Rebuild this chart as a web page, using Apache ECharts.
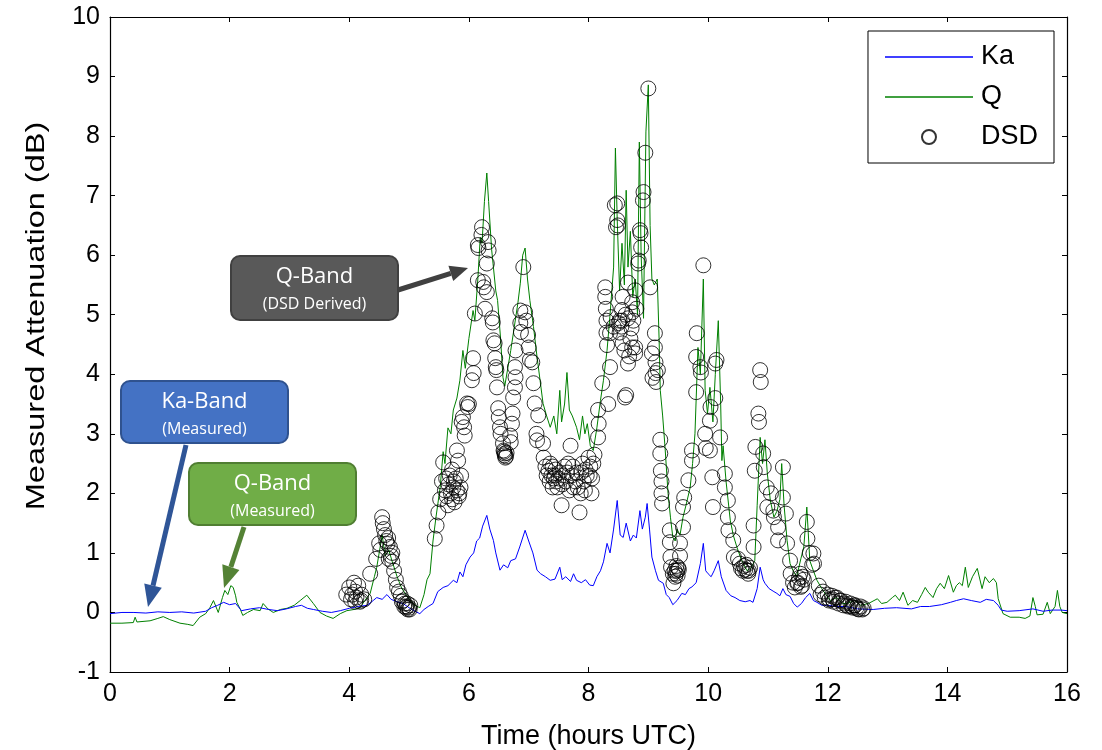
<!DOCTYPE html>
<html>
<head>
<meta charset="utf-8">
<script src="https://cdn.jsdelivr.net/npm/echarts@6/dist/echarts.min.js"></script>
<style>
  html, body { margin: 0; padding: 0; background: #fff; }
  #chart { width: 1102px; height: 750px; }
</style>
</head>
<body>
<div id="chart"></div>
<script>
// Ka-band measured attenuation [hours UTC, dB]
var kaData = [
  [0.0,-0.02],[0.2,0.0],[0.4,0.0],[0.6,-0.01],[0.8,0.01],[1.0,0.0],[1.2,0.01],[1.4,-0.01],[1.6,0.02],
  [1.7,0.08],[1.8,0.12],[1.9,0.17],[2.0,0.13],[2.1,0.15],[2.2,0.03],[2.35,0.06],[2.5,0.08],[2.65,0.05],
  [2.8,0.03],[2.95,0.06],[3.1,0.1],[3.2,0.12],[3.3,0.07],[3.4,0.05],[3.55,0.02],[3.7,0.0],[3.85,0.03],
  [4.0,0.07],[4.15,0.1],[4.3,0.12],[4.4,0.2],[4.46,0.25],[4.55,0.22],[4.63,0.3],[4.7,0.22],[4.8,0.18],
  [4.9,0.15],[5.0,0.08],[5.1,0.02],[5.18,-0.02],[5.25,0.05],[5.32,0.1],[5.4,0.15],[5.48,0.35],[5.57,0.42],
  [5.65,0.45],[5.74,0.54],[5.8,0.5],[5.85,0.68],[5.9,0.6],[5.95,0.8],[6.02,0.93],[6.08,1.0],[6.13,1.2],
  [6.18,1.25],[6.23,1.45],[6.3,1.63],[6.35,1.4],[6.41,1.21],[6.45,1.0],[6.52,0.71],[6.58,0.8],[6.65,0.75],
  [6.7,0.87],[6.78,0.9],[6.85,1.1],[6.94,1.38],[7.0,1.2],[7.07,1.0],[7.14,0.71],[7.2,0.65],[7.28,0.6],
  [7.36,0.54],[7.44,0.56],[7.52,0.76],[7.56,0.55],[7.62,0.6],[7.7,0.52],[7.75,0.65],[7.8,0.54],[7.88,0.5],
  [7.95,0.55],[8.02,0.46],[8.08,0.45],[8.14,0.6],[8.2,0.7],[8.25,0.85],[8.31,1.16],[8.36,1.0],[8.42,1.4],
  [8.48,1.88],[8.53,1.3],[8.58,1.26],[8.63,1.5],[8.7,1.2],[8.75,1.3],[8.8,1.25],[8.86,1.71],[8.9,1.4],
  [8.95,1.6],[8.98,1.83],[9.02,1.4],[9.06,0.93],[9.12,0.7],[9.17,0.54],[9.25,0.49],[9.3,0.3],[9.35,0.25],
  [9.41,0.13],[9.48,0.2],[9.56,0.32],[9.62,0.3],[9.68,0.4],[9.73,0.43],[9.8,0.5],[9.87,0.82],[9.92,1.16],
  [9.96,0.7],[10.0,0.65],[10.05,0.6],[10.1,0.7],[10.17,0.87],[10.22,0.6],[10.3,0.37],[10.38,0.28],
  [10.45,0.25],[10.53,0.2],[10.62,0.18],[10.7,0.2],[10.75,0.17],[10.82,0.4],[10.87,0.76],[10.92,0.55],
  [10.95,0.49],[11.02,0.4],[11.1,0.35],[11.15,0.32],[11.2,0.28],[11.25,0.4],[11.3,0.3],[11.37,0.27],
  [11.43,0.15],[11.49,0.09],[11.56,0.15],[11.63,0.25],[11.7,0.32],[11.76,0.2],[11.82,0.17],[11.9,0.12],
  [12.0,0.12],[12.15,0.1],[12.3,0.1],[12.5,0.06],[12.76,0.05],[12.95,0.07],[13.15,0.08],[13.4,0.06],
  [13.55,0.1],[13.7,0.1],[13.9,0.13],[14.05,0.17],[14.15,0.2],[14.27,0.23],[14.4,0.2],[14.55,0.17],
  [14.65,0.22],[14.77,0.2],[14.85,0.12],[14.9,0.04],[15.0,0.02],[15.2,0.03],[15.43,0.06],[15.6,0.02],
  [15.75,0.04],[15.9,0.04],[16.0,0.03]
];

// Q-band measured attenuation [hours UTC, dB]
var qData = [
  [0.0,-0.18],[0.2,-0.18],[0.39,-0.17],[0.42,-0.08],[0.45,-0.16],[0.67,-0.14],[0.8,-0.1],[0.89,-0.07],
  [1.0,-0.12],[1.17,-0.18],[1.3,-0.2],[1.39,-0.22],[1.5,-0.08],[1.6,-0.02],[1.67,0.08],[1.73,0.2],
  [1.81,0.0],[1.88,0.25],[1.92,0.37],[1.97,0.3],[2.02,0.45],[2.06,0.42],[2.1,0.28],[2.12,0.17],[2.18,0.05],
  [2.22,-0.05],[2.3,0.0],[2.4,0.05],[2.51,0.03],[2.56,0.15],[2.64,0.06],[2.73,0.0],[2.85,0.05],[2.96,0.07],
  [3.08,0.12],[3.18,0.2],[3.29,0.29],[3.4,0.15],[3.51,0.0],[3.62,-0.06],[3.73,-0.1],[3.85,-0.02],
  [3.96,0.03],[4.08,0.05],[4.18,0.08],[4.26,0.2],[4.35,0.32],[4.42,0.6],[4.46,0.76],[4.5,1.0],[4.55,1.3],
  [4.6,0.95],[4.66,1.05],[4.72,0.85],[4.8,0.6],[4.88,0.4],[4.95,0.3],[5.02,0.2],[5.1,0.12],[5.18,0.08],
  [5.25,0.3],[5.3,0.55],[5.35,0.65],[5.4,1.2],[5.45,1.6],[5.52,2.1],[5.57,2.7],[5.6,2.5],[5.65,3.1],
  [5.7,3.0],[5.74,3.4],[5.8,3.6],[5.85,3.9],[5.9,4.4],[5.94,4.1],[6.0,4.6],[6.07,5.07],[6.1,4.9],
  [6.15,5.6],[6.19,6.3],[6.22,6.2],[6.26,6.9],[6.3,7.38],[6.33,6.9],[6.38,6.1],[6.41,6.08],[6.45,5.4],
  [6.48,5.24],[6.53,4.6],[6.57,3.95],[6.6,3.8],[6.65,4.1],[6.7,4.4],[6.76,4.8],[6.82,5.2],[6.86,5.53],
  [6.9,6.0],[6.94,6.12],[6.98,5.6],[7.02,5.24],[7.08,4.8],[7.14,4.29],[7.19,3.9],[7.24,3.51],[7.3,3.3],
  [7.36,3.11],[7.42,3.3],[7.47,3.0],[7.52,3.73],[7.55,3.2],[7.6,3.5],[7.64,4.03],[7.68,3.4],[7.73,3.3],
  [7.8,3.11],[7.85,2.9],[7.9,3.3],[7.94,3.0],[7.98,3.17],[8.03,2.8],[8.08,2.72],[8.14,3.1],[8.2,3.56],
  [8.25,3.9],[8.31,4.4],[8.36,5.0],[8.42,5.8],[8.45,7.8],[8.48,6.6],[8.52,5.4],[8.56,6.2],[8.6,5.5],
  [8.63,7.09],[8.66,5.8],[8.7,6.4],[8.74,5.3],[8.78,5.6],[8.82,5.0],[8.85,7.9],[8.88,6.0],[8.92,4.94],
  [8.96,8.07],[9.0,8.86],[9.03,6.5],[9.06,5.6],[9.1,5.5],[9.15,5.6],[9.18,4.6],[9.2,3.73],[9.24,3.3],
  [9.28,2.77],[9.33,2.0],[9.37,1.6],[9.41,1.26],[9.45,1.2],[9.48,1.4],[9.53,1.3],[9.58,1.6],[9.63,1.8],
  [9.7,2.1],[9.74,2.5],[9.78,3.0],[9.83,4.45],[9.87,4.0],[9.92,5.6],[9.95,3.73],[9.99,3.34],[10.03,3.78],
  [10.08,3.2],[10.12,4.0],[10.17,4.9],[10.21,3.5],[10.23,2.55],[10.25,2.8],[10.3,2.2],[10.37,1.55],
  [10.42,1.3],[10.48,1.1],[10.55,0.9],[10.6,0.8],[10.65,0.7],[10.72,0.75],[10.78,0.87],[10.82,1.8],
  [10.87,2.94],[10.91,2.5],[10.95,2.9],[10.99,2.33],[11.04,1.88],[11.1,1.6],[11.15,1.7],[11.2,1.9],
  [11.23,2.5],[11.27,1.8],[11.32,1.21],[11.37,0.82],[11.42,0.7],[11.48,0.6],[11.55,0.9],[11.6,1.1],
  [11.65,1.77],[11.7,0.87],[11.76,0.7],[11.82,0.54],[11.9,0.4],[11.97,0.3],[12.04,0.2],[12.15,0.25],
  [12.25,0.15],[12.32,0.15],[12.45,0.2],[12.55,0.12],[12.68,0.15],[12.83,0.23],[12.9,0.15],[12.99,0.17],
  [13.08,0.25],[13.13,0.29],[13.2,0.2],[13.26,0.34],[13.34,0.12],[13.42,0.2],[13.5,0.17],[13.57,0.3],
  [13.63,0.42],[13.68,0.34],[13.76,0.25],[13.82,0.4],[13.88,0.49],[13.95,0.4],[14.02,0.62],[14.1,0.34],
  [14.15,0.45],[14.2,0.5],[14.25,0.45],[14.3,0.76],[14.35,0.42],[14.42,0.6],[14.5,0.74],[14.58,0.4],
  [14.63,0.6],[14.7,0.5],[14.77,0.57],[14.82,0.5],[14.85,0.23],[14.93,-0.02],[15.05,-0.08],[15.2,-0.08],
  [15.3,-0.1],[15.38,-0.06],[15.43,0.25],[15.47,0.1],[15.5,-0.04],[15.6,-0.03],[15.67,0.17],[15.72,-0.02],
  [15.8,0.1],[15.84,0.37],[15.88,0.1],[15.92,0.0],[16.0,-0.02]
];

// Q-band attenuation derived from drop size distribution [hours UTC, dB]
var dsdData = [
  [3.95,0.3],[4.0,0.42],[4.03,0.22],[4.05,0.3],[4.08,0.5],[4.1,0.35],[4.1,0.18],[4.12,0.25],[4.15,0.45],
  [4.18,0.18],[4.2,0.3],[4.2,0.2],[4.25,0.22],
  [4.35,0.65],[4.45,0.9],[4.5,1.16],[4.52,1.05],[4.55,1.6],[4.56,1.5],[4.58,1.4],[4.6,1.3],[4.62,1.2],
  [4.64,1.15],[4.65,1.25],[4.66,0.9],[4.68,1.1],[4.7,0.95],[4.72,1.0],[4.72,0.85],[4.75,0.7],[4.78,0.55],
  [4.8,0.42],[4.83,0.35],[4.86,0.28],[4.88,0.18],[4.9,0.2],[4.92,0.1],[4.93,0.15],[4.95,0.08],[4.96,0.1],
  [4.97,0.15],[4.98,0.05],[5.0,0.08],[5.01,0.05],[5.02,0.12],
  [5.43,1.24],[5.46,1.46],[5.49,1.68],[5.52,1.9],[5.55,2.2],[5.57,2.52],[5.6,2.05],[5.62,2.25],[5.63,1.95],
  [5.65,1.8],[5.66,2.15],[5.68,2.3],[5.7,2.0],[5.72,1.9],[5.72,2.4],[5.74,2.1],[5.75,2.2],[5.76,1.85],
  [5.78,2.25],[5.8,2.72],[5.8,2.05],[5.82,2.55],[5.83,1.95],[5.84,2.0],[5.86,2.1],[5.87,2.3],[5.88,3.2],
  [5.9,3.28],[5.92,3.11],[5.93,2.97],[5.97,3.51],[5.98,3.45],[6.0,3.5],[6.05,3.9],[6.07,4.27],[6.08,4.02],
  [6.1,5.02],[6.15,6.17],[6.16,6.12],[6.15,5.58],[6.22,6.47],[6.21,6.34],[6.24,5.55],[6.25,5.46],[6.27,5.1],
  [6.3,5.38],[6.32,6.22],[6.33,6.08],[6.3,5.86],[6.39,4.94],[6.4,4.87],[6.41,4.57],[6.43,4.52],[6.44,4.27],
  [6.45,4.12],[6.46,4.07],[6.47,3.78],[6.49,3.43],[6.5,3.28],[6.52,3.11],[6.53,3.0],[6.57,2.84],[6.58,2.72],
  [6.59,2.7],[6.6,2.67],[6.6,2.64],[6.61,2.6],[6.62,2.62],[6.63,2.68],
  [6.69,2.97],[6.7,2.86],[6.72,3.17],[6.73,3.34],[6.74,3.61],[6.77,3.78],[6.78,3.95],[6.77,4.12],[6.78,4.4],
  [6.86,5.07],[6.86,4.86],[6.87,4.71],[6.91,5.8],[6.94,5.04],[6.96,4.9],[6.99,4.66],[7.0,4.45],[7.02,4.24],
  [7.06,4.2],[7.08,3.85],[7.1,3.51],[7.16,3.31],[7.13,3.0],[7.14,2.89],[7.24,2.84],[7.25,2.6],[7.28,2.45],
  [7.3,2.3],[7.33,2.38],[7.35,2.2],[7.36,2.5],[7.38,2.3],[7.4,2.1],[7.4,2.45],[7.42,2.25],[7.44,2.3],
  [7.45,2.4],[7.46,2.2],[7.48,2.1],[7.5,2.25],[7.52,2.35],[7.55,1.8],[7.56,2.15],[7.58,2.3],[7.6,2.45],
  [7.62,2.2],[7.64,2.35],[7.66,2.5],[7.68,2.05],[7.7,2.8],[7.72,2.3],[7.74,2.45],[7.75,2.1],[7.78,2.2],
  [7.8,2.35],[7.82,2.1],[7.85,1.68],[7.87,2.0],[7.88,2.35],[7.9,2.5],[7.92,2.2],[7.94,2.05],[7.95,2.4],
  [7.97,2.3],[8.0,2.6],[8.02,2.3],[8.03,2.45],[8.05,2.0],[8.06,2.25],[8.08,2.5],[8.1,2.65],
  [8.16,3.4],[8.17,3.17],[8.16,2.94],[8.23,3.85],[8.28,5.46],[8.28,5.3],[8.29,5.1],[8.3,4.9],[8.3,4.7],
  [8.31,4.49],[8.33,3.5],[8.36,4.12],[8.36,4.69],[8.37,4.96],[8.42,4.8],[8.44,6.84],[8.48,6.87],[8.48,6.59],
  [8.49,6.5],[8.46,6.47],[8.5,4.86],[8.52,4.7],[8.52,4.9],[8.55,4.8],[8.56,5.08],[8.56,4.9],[8.57,5.3],
  [8.57,4.52],[8.6,4.4],[8.61,3.61],[8.62,5.0],[8.63,3.65],[8.66,4.18],[8.66,4.94],[8.66,5.54],[8.68,4.3],
  [8.7,4.6],[8.73,5.04],[8.73,5.21],[8.72,4.77],[8.73,4.45],[8.75,4.9],[8.78,4.45],[8.78,4.35],[8.78,5.41],
  [8.8,5.1],[8.83,5.86],[8.84,5.91],[8.86,6.42],[8.87,6.37],[8.88,6.13],[8.91,6.92],[8.92,7.06],[8.95,7.72],
  [9.0,8.8],[9.03,5.46],[9.06,4.35],[9.07,3.94],[9.11,4.69],[9.11,4.45],[9.12,4.2],[9.12,4.02],[9.13,3.87],
  [9.16,4.07],
  [9.2,2.9],[9.2,2.67],[9.21,2.38],[9.22,2.2],[9.22,2.0],[9.23,1.83],[9.36,1.38],[9.36,1.18],[9.37,0.93],
  [9.38,0.76],[9.41,0.65],[9.42,0.49],[9.44,0.7],[9.45,0.6],[9.46,0.65],[9.47,0.78],[9.48,0.7],[9.49,0.62],
  [9.5,0.75],[9.51,0.72],[9.53,0.95],[9.53,1.16],[9.58,1.43],[9.58,1.77],[9.6,1.93],[9.67,2.22],[9.73,2.72],
  [9.73,2.55],[9.8,3.7],[9.8,4.29],[9.81,4.69],[9.87,4.12],[9.88,4.03],[9.92,5.83],
  [9.95,3.0],[9.96,2.76],[10.03,2.72],[10.03,3.22],[10.04,3.45],[10.07,2.27],[10.08,1.77],[10.12,3.6],
  [10.12,4.18],[10.14,4.24],[10.2,2.94],[10.28,2.33],[10.28,2.1],[10.33,1.88],[10.33,1.6],[10.34,1.38],
  [10.42,1.21],[10.43,0.93],[10.5,0.9],[10.53,0.82],[10.55,0.74],[10.58,0.7],[10.6,0.78],[10.62,0.72],
  [10.64,0.8],[10.65,0.7],[10.67,0.65],[10.68,0.7],[10.7,0.75],[10.76,1.46],[10.76,1.1],[10.78,2.38],
  [10.79,2.78],[10.84,3.34],[10.85,3.2],[10.87,4.07],[10.88,3.87],[10.92,2.67],[10.93,2.44],[10.98,2.1],
  [10.99,1.77],[11.05,2.0],[11.09,1.71],[11.1,1.6],[11.17,1.21],[11.17,1.43],[11.25,2.44],[11.25,1.93],
  [11.3,1.66],[11.32,1.16],[11.37,0.87],[11.38,0.65],[11.42,0.5],[11.45,0.42],[11.49,0.49],[11.5,0.5],
  [11.52,0.58],[11.54,0.65],[11.55,0.43],[11.57,0.45],[11.58,0.6],[11.6,0.55],[11.65,1.52],[11.66,1.24],
  [11.7,1.0],[11.74,0.8],[11.76,0.99],[11.77,0.82],
  [11.85,0.45],[11.88,0.3],[11.92,0.35],[11.95,0.25],[12.0,0.3],[12.02,0.2],[12.03,0.22],[12.07,0.28],
  [12.08,0.22],[12.1,0.18],[12.12,0.25],[12.15,0.25],[12.18,0.15],[12.2,0.2],[12.22,0.2],[12.26,0.12],
  [12.28,0.15],[12.3,0.18],[12.32,0.12],[12.34,0.1],[12.38,0.15],[12.4,0.1],[12.42,0.08],[12.44,0.12],
  [12.46,0.12],[12.48,0.08],[12.5,0.06],[12.52,0.05],[12.55,0.1],[12.58,0.05],[12.6,0.07]
];

var seriesNames = ['Ka', 'Q', 'DSD'];
var axisFont = 'Liberation Sans, Arial, sans-serif';
var noteFont = 'Open Sans, Noto Sans, sans-serif';

// callout box: rounded rect with two lines of white text
function callout(x, y, w, h, fill, stroke, title, sub) {
  return {
    type: 'group', x: x, y: y,
    children: [
      { type: 'rect', shape: { x: 0, y: 0, width: w, height: h, r: 9 },
        style: { fill: fill, stroke: stroke, lineWidth: 2 } },
      { type: 'text', x: w / 2, y: 21,
        style: { text: title, fill: '#fff', font: '22px ' + noteFont, align: 'center', verticalAlign: 'middle' } },
      { type: 'text', x: w / 2, y: 48,
        style: { text: sub, fill: '#fff', font: '16px ' + noteFont, align: 'center', verticalAlign: 'middle' } }
    ]
  };
}

// arrow from (x1,y1) to tip (x2,y2)
function arrow(x1, y1, x2, y2, color, width, headLen, headHalf) {
  var dx = x2 - x1, dy = y2 - y1;
  var len = Math.sqrt(dx * dx + dy * dy);
  var ux = dx / len, uy = dy / len;
  var bx = x2 - headLen * ux, by = y2 - headLen * uy;
  var nx = -uy, ny = ux;
  return [
    { type: 'line', shape: { x1: x1, y1: y1, x2: bx, y2: by },
      style: { stroke: color, lineWidth: width } },
    { type: 'polygon',
      shape: { points: [[x2, y2], [bx + headHalf * nx, by + headHalf * ny], [bx - headHalf * nx, by - headHalf * ny]] },
      style: { fill: color } }
  ];
}

var graphics = [];
graphics.push(callout(231, 256, 167, 64, '#595959', '#404040', 'Q-Band', '(DSD Derived)'));
graphics.push(callout(121, 381, 167, 62, '#4472C4', '#2F528F', 'Ka-Band', '(Measured)'));
graphics.push(callout(189, 463, 167, 62, '#70AD47', '#507E32', 'Q-Band', '(Measured)'));
graphics = graphics.concat(arrow(398, 290, 468, 268, '#404040', 5, 18, 8));
graphics = graphics.concat(arrow(186, 445, 148, 607, '#2F5597', 5, 22, 9));
graphics = graphics.concat(arrow(244, 527, 224, 588, '#548235', 5, 22, 9));
// y axis title, stretched along its length like the original figure
graphics.push({
  type: 'group', x: 37, y: 316, rotation: Math.PI / 2,
  children: [{
    type: 'text', x: 0, y: 0, scaleX: 1.25, scaleY: 1,
    style: { text: 'Measured Attenuation (dB)', fill: '#000', font: '26px ' + axisFont,
      align: 'center', verticalAlign: 'middle' }
  }]
});

var chart = echarts.init(document.getElementById('chart'));

var tickStyle = { inside: true, length: 5, lineStyle: { color: '#000', width: 1 } };
var lineStyleAxis = { show: true, onZero: false, lineStyle: { color: '#000', width: 1.2 } };
var lineIcon = 'path://M0,0 L88,0 L88,1.3 L0,1.3 Z';

var option = {
  backgroundColor: '#fff',
  animation: false,
  grid: { left: 110, right: 35, top: 17, bottom: 78, containLabel: false, outerBoundsMode: 'none' },
  legend: {
    orient: 'vertical',
    right: 48, top: 31,
    data: [
      { name: seriesNames[0], icon: lineIcon },
      { name: seriesNames[1], icon: lineIcon },
      { name: seriesNames[2] }
    ],
    itemWidth: 88, itemHeight: 14, itemGap: 12,
    padding: [12, 16, 12, 17],
    borderColor: '#000', borderWidth: 1,
    backgroundColor: '#fff',
    textStyle: { fontFamily: axisFont, fontSize: 27, color: '#000', lineHeight: 28, padding: [0, 0, 0, 3] }
  },
  xAxis: [
    {
      type: 'value', min: 0, max: 16, interval: 2, position: 'bottom',
      name: 'Time (hours UTC)', nameLocation: 'middle', nameGap: 51,
      nameTextStyle: { fontFamily: axisFont, fontSize: 27, color: '#000' },
      axisLine: lineStyleAxis, axisTick: tickStyle, splitLine: { show: false },
      axisLabel: { fontFamily: axisFont, fontSize: 25, color: '#000', margin: 10 }
    },
    {
      type: 'value', min: 0, max: 16, interval: 2, position: 'top',
      axisLine: lineStyleAxis, axisTick: tickStyle, splitLine: { show: false },
      axisLabel: { show: false }
    }
  ],
  yAxis: [
    {
      type: 'value', min: -1, max: 10, interval: 1, position: 'left',
      axisLine: lineStyleAxis, axisTick: tickStyle, splitLine: { show: false },
      axisLabel: { fontFamily: axisFont, fontSize: 25, color: '#000', margin: 10 }
    },
    {
      type: 'value', min: -1, max: 10, interval: 1, position: 'right',
      axisLine: lineStyleAxis, axisTick: tickStyle, splitLine: { show: false },
      axisLabel: { show: false }
    }
  ],
  series: [
    {
      name: seriesNames[0], type: 'line', data: kaData, symbol: 'none',
      lineStyle: { color: '#0000ff', width: 1 }, itemStyle: { color: '#0000ff' }, z: 3
    },
    {
      name: seriesNames[1], type: 'line', data: qData, symbol: 'none',
      lineStyle: { color: '#008000', width: 1 }, itemStyle: { color: '#008000' }, z: 2
    },
    {
      name: seriesNames[2], type: 'scatter', data: dsdData, symbol: 'circle', symbolSize: 15,
      itemStyle: { color: 'none', borderColor: '#000', borderWidth: 1 }, z: 4
    }
  ],
  graphic: graphics
};

chart.setOption(option);
</script>
</body>
</html>
